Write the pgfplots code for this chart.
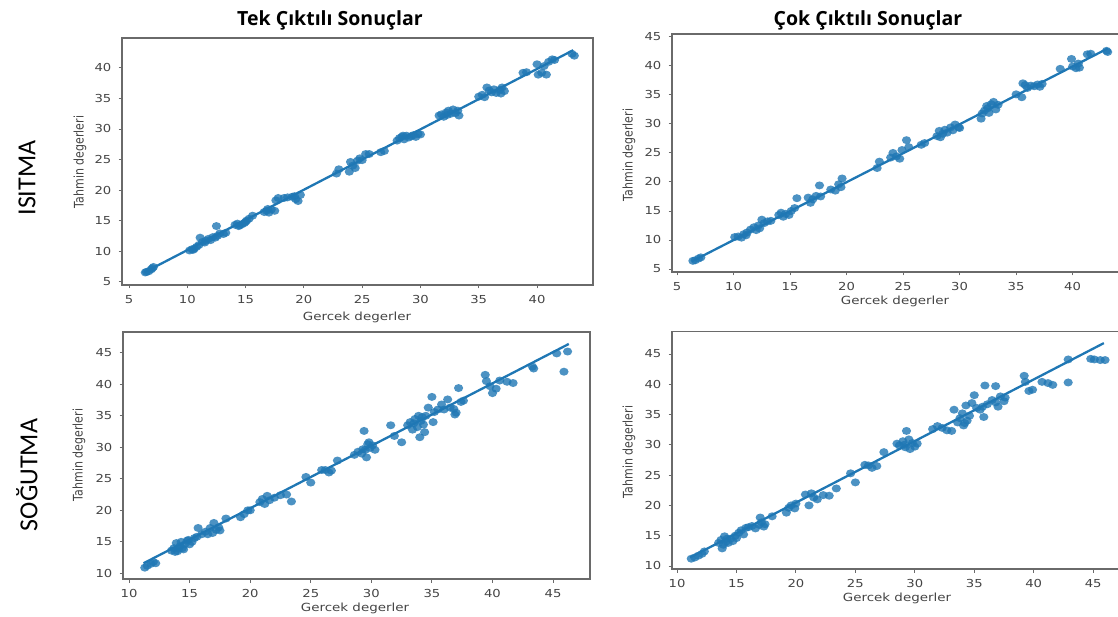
\documentclass[border=0pt]{standalone}
\usepackage{fontspec}
\usepackage{pgfplots}
\pgfplotsset{compat=1.18}
\setmainfont{DejaVu Sans}
\newfontfamily\tickf[FakeStretch=1.2]{DejaVu Sans}
\newfontfamily\ylabf[FakeStretch=0.833]{DejaVu Sans}
\newfontfamily\titlef{Open Sans}
\newfontfamily\rowf{Carlito}
\definecolor{mplblue}{HTML}{1F77B4}
\definecolor{txtgray}{HTML}{444444}
\definecolor{spine}{HTML}{6A6A6A}

\pgfplotsset{
  panel/.style={
    scale only axis, anchor=north west,
    axis line style={spine, line width=1.1pt},
    every tick/.style={spine, line width=0.9pt},
    tick align=outside, major tick length=3.5pt,
    xtick pos=left, ytick pos=left,
    /pgf/number format/assume math mode=true,
    ticklabel style={font=\tickf\fontsize{11}{12}\selectfont, text=txtgray, inner sep=0pt},
    xticklabel style={anchor=north, yshift=-7pt},
    yticklabel style={anchor=east, xshift=-7pt},
    clip=false,
  },
  pts/.style={only marks, color=mplblue, mark=*, mark size=4pt,
    mark options={draw=mplblue, fill=mplblue, draw opacity=0, fill opacity=0.8, xscale=1.15}},
  reg/.style={no marks, mplblue, line width=2.3pt},
}

\begin{document}
\begin{tikzpicture}[x=1pt,y=1pt]
\path[use as bounding box] (0,0) rectangle (1118,-617);

% ---------------- Panel 1: ISITMA, Tek
\begin{axis}[panel, at={(122pt,-38pt)}, width=471pt, height=247pt,
  xmin=4.4, xmax=44.8, ymin=4.45, ymax=44.9,
  xtick={5,10,...,40}, ytick={5,10,...,40}]
\addplot[pts] coordinates {
(6.4,6.5)(6.5,6.6)(6.7,6.7)(6.9,7.0)(7.1,7.4)(7.0,7.2)
(10.2,10.1)(10.4,10.3)(10.6,10.4)(10.8,10.7)(11.0,11.0)(11.1,12.2)(11.3,11.5)(11.6,11.7)
(11.8,12.0)(12.0,11.8)(12.2,12.3)(12.4,12.2)(12.6,12.5)(12.8,12.9)(13.1,12.8)(13.3,13.0)
(11.5,11.4)(10.5,10.2)(12.5,14.1)
(14.1,14.3)(14.3,14.5)(14.5,14.2)(14.7,14.4)(14.9,14.6)(15.1,15.0)(15.3,15.3)(15.6,15.8)(14.4,14.1)(15.0,14.8)
(16.6,16.4)(16.8,16.6)(17.0,16.3)(17.2,16.8)(17.5,16.6)(17.6,18.3)(17.8,18.7)(16.9,16.9)
(18.3,18.7)(18.6,18.8)(19.0,18.9)(19.3,18.5)(19.5,18.2)(19.7,19.2)(19.2,19.0)
(22.8,22.7)(23.0,23.4)
(23.9,23.0)(24.0,24.6)(24.2,24.0)(24.4,23.6)(24.6,24.8)(24.8,25.2)(25.0,24.9)(25.3,25.9)(25.6,25.9)
(26.6,26.2)(26.9,26.4)
(28.0,28.1)(28.2,28.5)(28.4,28.7)(28.6,28.3)(28.8,28.9)(29.0,28.6)(29.2,28.8)(29.4,29.0)(29.6,28.7)(29.8,29.2)(30.0,29.1)(28.5,28.9)
(31.6,32.2)(31.8,32.4)(32.0,32.0)(32.2,32.7)(32.4,33.0)(32.6,32.5)(32.8,33.2)(33.0,32.6)(33.2,33.0)(33.3,32.2)(32.3,32.3)
(35.0,35.3)(35.3,35.6)(35.5,35.2)(35.7,36.8)(35.9,36.3)(36.1,36.0)(36.3,36.5)(36.5,35.9)(36.8,36.4)(37.0,36.8)(37.2,36.2)(36.9,35.8)
(38.8,39.2)(39.1,39.3)
(40.0,40.6)(40.1,38.9)(40.4,39.2)(40.6,40.3)(40.8,38.9)(41.0,41.0)(41.3,41.4)(41.5,41.3)
(43.0,42.3)(43.2,42.0)
};
\addplot[reg] coordinates {(6.3,6.5)(43.1,42.9)};
\end{axis}

% ---------------- Panel 2: ISITMA, Cok
\begin{axis}[panel, at={(672pt,-34pt)}, width=456pt, height=238pt,
  xmin=4.55, xmax=44.9, ymin=4.48, ymax=45.5,
  xtick={5,10,...,40}, ytick={5,10,...,45}]
\addplot[pts] coordinates {
(6.4,6.4)(6.6,6.5)(6.9,6.8)(7.1,7.0)
(10.1,10.5)(10.4,10.6)(10.7,10.4)(10.9,11.0)(11.2,11.3)(11.5,11.8)(11.8,12.2)(12.0,11.7)
(12.2,12.5)(12.5,13.5)(12.7,12.9)(13.0,13.2)(13.3,13.3)(11.1,10.8)(12.3,12.0)
(14.0,14.3)(14.2,14.7)(14.4,14.0)(14.6,14.5)(14.9,14.3)(15.1,15.0)(15.4,15.5)(15.6,17.2)
(16.6,17.3)(16.8,16.4)(17.0,17.0)(17.3,17.6)(17.6,19.4)(17.7,17.5)
(18.6,18.7)(19.0,18.5)(19.3,19.6)(19.6,20.6)(19.5,19.1)
(22.7,22.4)(22.9,23.5)
(23.9,24.2)(24.1,25.0)(24.4,24.4)(24.7,24.0)(24.9,25.5)(25.3,27.2)(25.5,26.0)
(26.6,26.4)(26.9,26.7)
(28.0,27.9)(28.2,28.8)(28.5,28.3)(28.7,29.0)(28.9,28.5)(29.2,29.4)(29.4,28.9)(29.6,29.9)(29.9,29.4)(28.3,27.7)(30.0,29.3)
(31.9,30.9)(32.0,31.8)(32.2,32.3)(32.4,33.1)(32.6,31.9)(32.8,33.4)(33.0,33.8)(33.2,32.5)(33.4,33.3)(32.5,32.7)
(35.0,35.1)(35.5,34.6)(35.6,37.0)(35.8,36.7)(36.0,36.2)(36.3,36.6)(36.6,36.5)(36.9,36.8)(37.1,36.4)(37.3,36.9)
(38.9,39.5)
(39.9,41.2)(40.0,39.9)(40.3,39.6)(40.6,39.7)(40.5,40.4)(41.3,42.0)(41.6,42.1)
(43.0,42.6)(43.1,42.4)
};
\addplot[reg] coordinates {(6.3,6.3)(43.1,43.0)};
\end{axis}

% ---------------- Panel 3: SOGUTMA, Tek
\begin{axis}[panel, at={(123pt,-332pt)}, width=467pt, height=247pt,
  xmin=9.5, xmax=48.05, ymin=9.1, ymax=48.3,
  xtick={10,15,...,45}, ytick={10,15,...,45}]
\addplot[pts] coordinates {
(11.3,10.9)(11.5,11.2)(11.8,11.5)(12.2,11.6)(12.0,11.8)
(13.5,13.6)(13.7,14.0)(13.9,14.8)(14.0,13.5)(14.2,14.3)(14.3,15.0)(14.5,13.8)(14.6,14.6)(14.8,15.2)
(15.0,14.6)(15.2,15.0)(15.4,15.6)(15.6,15.8)(15.7,17.2)(14.1,13.9)(14.4,14.0)(13.8,13.4)(14.9,15.3)
(16.0,16.2)(16.3,16.6)(16.5,16.2)(16.7,17.2)(16.9,16.4)(17.0,18.0)(17.2,16.9)(17.4,17.3)(17.5,16.8)
(18.0,18.7)
(19.2,18.9)(19.5,19.4)(19.8,20.0)(20.0,20.0)
(20.8,21.3)(21.0,21.8)(21.2,21.0)(21.4,22.3)(21.6,21.6)(22.0,22.0)(22.5,22.4)(23.0,22.5)(23.4,21.4)
(24.6,25.3)(25.0,24.4)
(25.9,26.4)(26.2,26.4)(26.5,26.0)(26.7,26.3)(27.2,27.9)
(28.6,28.8)(28.9,29.3)(29.2,29.0)(29.4,32.6)(29.5,29.6)(29.6,28.4)(29.7,30.5)(29.9,29.9)(30.1,30.3)(30.3,29.6)(29.8,30.8)(29.3,29.7)
(31.6,33.5)(31.9,31.8)(32.5,30.8)
(33.0,33.5)(33.2,34.0)(33.4,32.8)(33.6,34.5)(33.8,33.2)(33.9,35.0)(34.0,31.6)(34.1,34.2)(34.3,33.6)(34.5,35.0)(34.7,36.3)(33.5,33.8)(34.4,32.4)(34.2,34.8)
(35.0,38.0)(35.2,35.6)(35.1,34.0)(35.5,36.0)(35.8,36.8)(36.0,36.0)(36.3,37.6)(36.5,36.3)(36.8,36.1)(37.0,35.5)(37.2,39.4)(37.4,37.2)(37.6,37.4)(36.9,35.2)
(39.4,41.5)(39.5,40.5)(39.8,39.7)(40.0,38.6)(40.3,39.3)(40.6,40.6)(41.2,40.4)(41.7,40.2)
(43.3,42.8)(43.4,42.5)
(45.3,44.9)(45.9,42.0)(46.2,45.2)
};
\addplot[reg] coordinates {(11.2,11.6)(46.3,46.4)};
\end{axis}

% ---------------- Panel 4: SOGUTMA, Cok
\begin{axis}[panel, at={(672pt,-331.6pt)}, width=458pt, height=237.4pt,
  xmin=9.58, xmax=48.1, ymin=9.5, ymax=48.7,
  xtick={10,15,...,45}, ytick={10,15,...,45}]
\addplot[pts] coordinates {
(11.2,11.2)(11.5,11.4)(11.8,11.7)(12.1,12.0)(12.3,12.4)
(13.5,13.8)(13.7,14.3)(13.8,12.9)(14.0,14.9)(14.1,14.0)(14.3,13.8)(14.5,14.5)(14.7,14.1)(14.9,15.0)
(15.0,14.6)(15.2,15.5)(15.4,15.9)(15.6,15.2)(15.8,16.3)(14.2,14.5)(13.9,13.5)
(16.0,16.4)(16.3,16.6)(16.6,16.2)(16.9,16.8)(17.0,18.0)(17.1,17.2)(17.3,16.5)(17.4,16.9)
(18.0,18.2)
(19.2,18.8)(19.4,19.6)(19.6,20.0)(19.9,19.5)(20.0,20.3)
(20.8,21.8)(21.1,20.0)(21.3,22.0)(21.5,21.3)(21.8,21.0)(22.3,21.7)(22.8,21.6)(23.4,22.8)
(24.6,25.3)(25.0,23.8)
(25.8,26.7)(26.1,26.6)(26.4,26.2)(26.8,26.5)(27.4,28.8)
(28.5,30.2)(28.7,29.9)(29.0,30.6)(29.2,29.6)(29.3,32.3)(29.5,30.9)(29.6,29.3)(29.8,30.3)(30.0,29.7)(30.2,30.2)(29.1,30.0)
(31.5,32.6)(31.9,33.1)(32.3,32.8)(32.7,32.4)(33.1,32.3)(33.3,35.8)
(33.6,33.7)(33.8,34.4)(34.0,35.2)(34.1,33.2)(34.3,36.5)(34.4,34.0)(34.6,34.8)(34.8,36.9)(34.2,33.6)
(35.0,38.2)(35.2,36.1)(35.5,35.8)(35.7,36.3)(35.8,34.6)(36.1,36.7)(35.9,39.8)(36.5,37.4)(36.8,37.0)(37.0,36.3)(36.8,39.7)(37.5,37.2)(37.6,37.8)(37.2,38.0)
(39.2,41.4)(39.3,40.4)(39.6,38.9)(39.9,39.1)(40.7,40.4)(41.2,40.2)(41.6,39.9)
(42.9,44.1)(42.9,40.3)
(44.8,44.2)(45.1,44.1)(45.6,44.0)(46.0,44.0)
};
\addplot[reg] coordinates {(11.1,11.4)(45.9,46.8)};
\end{axis}

% ---------------- axis labels
\begin{scope}[every node/.style={text=txtgray, inner sep=0pt}]
\node[anchor=base, font=\tickf\fontsize{11.2}{12}\selectfont] at (357,-320) {Gercek degerler};
\node[anchor=base, font=\tickf\fontsize{11.2}{12}\selectfont] at (895,-305) {Gercek degerler};
\node[anchor=base, font=\tickf\fontsize{11.2}{12}\selectfont] at (355,-611) {Gercek degerler};
\node[anchor=base, font=\tickf\fontsize{11.2}{12}\selectfont] at (897,-601) {Gercek degerler};
\node[rotate=90, font=\ylabf\fontsize{13.2}{14}\selectfont] at (80,-162) {Tahmin degerleri};
\node[rotate=90, font=\ylabf\fontsize{13.2}{14}\selectfont] at (629,-155) {Tahmin degerleri};
\node[rotate=90, font=\ylabf\fontsize{13.2}{14}\selectfont] at (79,-455) {Tahmin degerleri};
\node[rotate=90, font=\ylabf\fontsize{13.2}{14}\selectfont] at (629,-452) {Tahmin degerleri};
\end{scope}

% ---------------- titles and row labels
\node[anchor=base, font=\titlef\bfseries\fontsize{19.5}{22}\selectfont, inner sep=0pt] at (330,-26) {Tek Çıktılı Sonuçlar};
\node[anchor=base, font=\titlef\bfseries\fontsize{19.5}{22}\selectfont, inner sep=0pt] at (868,-26) {Çok Çıktılı Sonuçlar};
\node[rotate=90, font=\rowf\fontsize{26}{28}\selectfont, inner sep=0pt] at (27,-178) {ISITMA};
\node[rotate=90, font=\rowf\fontsize{26}{28}\selectfont, inner sep=0pt] at (27,-475) {SOĞUTMA};
\end{tikzpicture}
\end{document}
